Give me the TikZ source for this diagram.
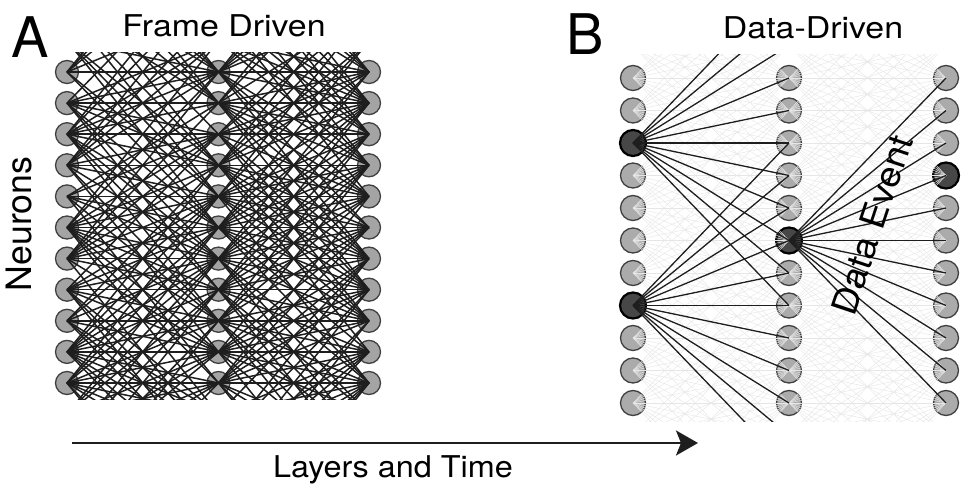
\documentclass[tikz,border=0pt]{standalone}
\usepackage{fontspec}
\usepackage{graphicx}
\setmainfont{TeX Gyre Heros}
\usetikzlibrary{arrows.meta}
\definecolor{nfill}{HTML}{A4A4A4}
\definecolor{nfillb}{HTML}{ABABAB}
\definecolor{nline}{HTML}{404040}
\definecolor{faint}{HTML}{E6E6E6}
\definecolor{dfill}{HTML}{474747}
\definecolor{lk}{HTML}{1E1E1E}
\newcommand\sx[1]{\scalebox{1.13}[1]{#1}}
\tikzset{
  aneur/.style={circle, inner sep=0pt, minimum size=23pt, fill=nfill, draw=nline, line width=1.3pt},
  bneur/.style={circle, inner sep=0pt, minimum size=25pt, fill=nfillb, draw=nline, line width=1.3pt},
  bact/.style={fill=dfill, draw=black, line width=2.2pt, minimum size=26pt},
  aline/.style={draw=lk, line width=1.5pt},
  fline/.style={draw=faint, line width=0.45pt},
  bline/.style={draw=lk, line width=1.3pt},
  lbl/.style={inner sep=0pt, font=\fontsize{30}{36}\selectfont},
  big/.style={inner sep=0pt, font=\fontsize{56}{60}\selectfont},
  bL8/.style={bact}, bL13/.style={bact}, bM11/.style={bact}, bR9/.style={bact},
}
\begin{document}
\begin{tikzpicture}[x=1pt,y=-1pt]
\useasboundingbox (0,0) rectangle (970,494);
\pgfmathsetseed{4711}
% ---------- Panel A ----------
\foreach \c/\x in {L/67,M/218.5,R/369}{
  \foreach \k in {1,...,23}{
    \pgfmathsetmacro\yy{72+(\k-7)*31.1}
    \ifnum\k<7 \coordinate (a\c\k) at (\x,\yy);
    \else\ifnum\k>17 \coordinate (a\c\k) at (\x,\yy);
    \else \node[aneur] (a\c\k) at (\x,\yy) {};
    \fi\fi
  }
}
\begin{scope}
  \clip (0,53) rectangle (400,400);
  \foreach \k in {1,...,23}{
    \foreach \d in {-6,...,6}{
      \pgfmathtruncatemacro\m{\k+\d}
      \ifnum\m>0 \ifnum\m<24
        \pgfmathtruncatemacro\oka{(rnd<0.8)||(\d==0)}
        \pgfmathtruncatemacro\okb{(rnd<0.8)||(\d==0)}
        \ifnum\oka=1 \draw[aline] (aL\k.center) -- (aM\m.center); \fi
        \ifnum\okb=1 \draw[aline] (aM\k.center) -- (aR\m.center); \fi
      \fi\fi
    }
  }
\end{scope}
% ---------- Panel B ----------
\foreach \c/\x in {L/633,M/789,R/946}{
  \foreach \k in {1,...,21}{
    \pgfmathsetmacro\yy{78+(\k-6)*32.5}
    \ifnum\k<6 \coordinate (b\c\k) at (\x,\yy);
    \else\ifnum\k>16 \coordinate (b\c\k) at (\x,\yy);
    \else \node[bneur, b\c\k/.try] (b\c\k) at (\x,\yy) {};
    \fi\fi
  }
}
\begin{scope}
  \clip (600,55) rectangle (970,422);
  \foreach \k in {1,...,21}{
    \foreach \d in {-5,...,5}{
      \pgfmathtruncatemacro\m{\k+\d}
      \ifnum\m>0 \ifnum\m<22
        \draw[fline] (bL\k.center) -- (bM\m.center);
        \draw[fline] (bM\k.center) -- (bR\m.center);
      \fi\fi
    }
  }
  \foreach \d in {-5,...,5}{
    \pgfmathtruncatemacro\m{8+\d}
    \draw[bline] (bL8.center) -- (bM\m.center);
    \pgfmathtruncatemacro\m{13+\d}
    \draw[bline] (bL13.center) -- (bM\m.center);
    \pgfmathtruncatemacro\m{11+\d}
    \draw[bline] (bM11.center) -- (bR\m.center);
  }
\end{scope}
% ---------- Labels ----------
\node[big, anchor=base] (lblA) at (30,58) {A};
\node[big, anchor=base] (lblB) at (585,55) {B};
\node[lbl, anchor=base] (titleA) at (224,37) {\sx{Frame Driven}};
\node[lbl, anchor=base] (titleB) at (813,39) {\sx{Data-Driven}};
\node[lbl, anchor=base, rotate=90, font=\fontsize{35}{40}\selectfont] (neur) at (31,224) {\scalebox{1.02}[1]{Neurons}};
\node[lbl, anchor=center, rotate=71.5, font=\fontsize{35}{40}\selectfont] (devent) at (872,225) {\scalebox{1.08}[1]{Data Event}};
\coordinate (ar0) at (72,443);
\coordinate (ar1) at (698,443);
\draw[line width=2.7pt, draw=lk, -{Stealth[length=22pt,width=25pt,inset=5pt]}] (ar0) -- (ar1);
\node[lbl, anchor=base] (xlab) at (393,478) {\scalebox{1.08}[1]{Layers and Time}};
\end{tikzpicture}
\end{document}
